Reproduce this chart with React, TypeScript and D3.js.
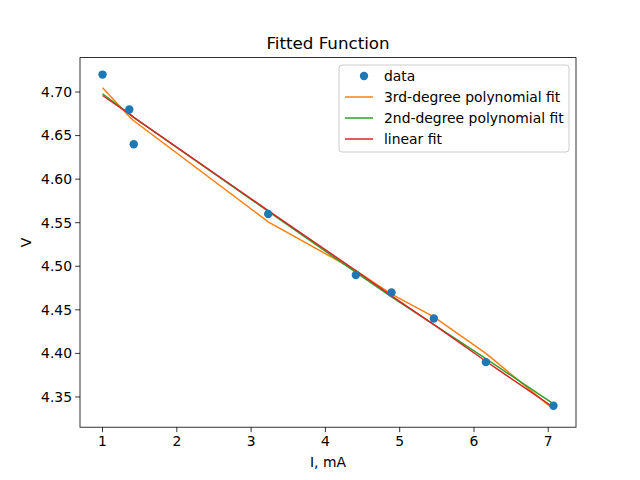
import * as d3 from 'd3'

const xs = [1.0, 1.36, 1.42, 3.23, 4.41, 4.89, 5.46, 6.16, 7.07]
const dataV = [4.72, 4.68, 4.64, 4.56, 4.49, 4.47, 4.44, 4.39, 4.34]
const cubicV = [4.705, 4.672, 4.667, 4.551, 4.495, 4.468, 4.442, 4.4, 4.336]
const quadV = [4.698, 4.675, 4.671, 4.563, 4.493, 4.465, 4.433, 4.394, 4.342]
const linV = [4.696, 4.675, 4.671, 4.564, 4.495, 4.466, 4.433, 4.391, 4.338]
const xTicks = [1, 2, 3, 4, 5, 6, 7]
const yTicks = [4.35, 4.4, 4.45, 4.5, 4.55, 4.6, 4.65, 4.7]

const W = 640, H = 480
const L = 80, R = 576, T = 57.6, B = 427.2
const font = 'DejaVu Sans, sans-serif'

export default function App() {
  const x = d3.scaleLinear().domain([0.6965, 7.3735]).range([L, R])
  const y = d3.scaleLinear().domain([4.3153, 4.7395]).range([B, T])
  const line = (vals: number[]) =>
    d3.line<number>().x((_, i) => x(xs[i])).y(v => y(v))(vals) ?? ''
  const fits = [
    { label: '3rd-degree polynomial fit', vals: cubicV, color: '#ff7f0e' },
    { label: '2nd-degree polynomial fit', vals: quadV, color: '#2ca02c' },
    { label: 'linear fit', vals: linV, color: '#d62728' },
  ]
  return (
    <svg width={W} height={H} style={{ position: 'absolute', left: 0, top: 0, background: '#fff' }} fontFamily={font}>
      <defs>
        <clipPath id="plot"><rect x={L} y={T} width={R - L} height={B - T} /></clipPath>
      </defs>
      <g clipPath="url(#plot)">
        {fits.map(f => (
          <path key={f.label} d={line(f.vals)} fill="none" stroke={f.color} strokeWidth={1.5} />
        ))}
        {xs.map((xv, i) => (
          <circle key={i} cx={x(xv)} cy={y(dataV[i])} r={4.2} fill="#1f77b4" />
        ))}
      </g>
      <rect x={L} y={T} width={R - L} height={B - T} fill="none" stroke="#000" strokeWidth={0.8} />
      {xTicks.map(t => (
        <g key={t} transform={`translate(${x(t)},${B})`}>
          <line y2={4.9} stroke="#000" strokeWidth={0.8} />
          <text y={19} textAnchor="middle" fontSize={13.9}>{t}</text>
        </g>
      ))}
      {yTicks.map(t => (
        <g key={t} transform={`translate(${L},${y(t)})`}>
          <line x2={-4.9} stroke="#000" strokeWidth={0.8} />
          <text x={-8} dy="0.35em" textAnchor="end" fontSize={13.9}>{t.toFixed(2)}</text>
        </g>
      ))}
      <text x={(L + R) / 2} y={467} textAnchor="middle" fontSize={13.9}>I, mA</text>
      <text transform={`translate(31,${(T + B) / 2}) rotate(-90)`} textAnchor="middle" fontSize={13.9}>V</text>
      <text x={(L + R) / 2} y={49} textAnchor="middle" fontSize={16.7}>Fitted Function</text>
      <g transform="translate(339,65)">
        <rect width={230} height={87} rx={3} fill="#fff" fillOpacity={0.8} stroke="#ccc" />
        <circle cx={25} cy={11} r={4.2} fill="#1f77b4" />
        <text x={45} y={11} dy="0.35em" fontSize={13.9}>data</text>
        {fits.map((f, i) => (
          <g key={f.label} transform={`translate(0,${32 + i * 21})`}>
            <line x1={6} x2={34} stroke={f.color} strokeWidth={1.5} />
            <text x={45} dy="0.35em" fontSize={13.9}>{f.label}</text>
          </g>
        ))}
      </g>
    </svg>
  )
}
